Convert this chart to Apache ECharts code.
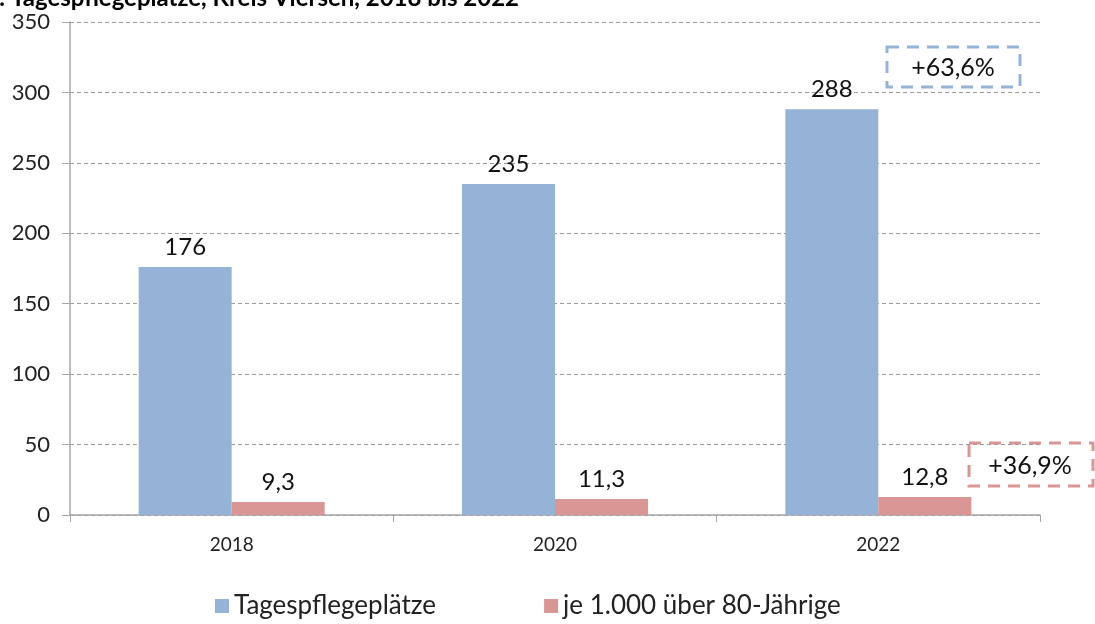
<!DOCTYPE html>
<html>
<head>
<meta charset="utf-8">
<script src="https://cdn.jsdelivr.net/npm/echarts@6/dist/echarts.min.js"></script>
<style>
  html, body { margin: 0; padding: 0; background: #fff; }
  #chart { width: 1095px; height: 624px; }
</style>
</head>
<body>
<div id="chart"></div>
<script>
// data
const years = ['2018', '2020', '2022'];
const places = [176, 235, 288];
const perThousand = [9.3, 11.3, 12.8];
const seriesNames = ['Tagespflegeplätze', 'je 1.000 über 80-Jährige'];
const changes = ['+63,6%', '+36,9%'];

const blue = '#95b3d7';
const red = '#d99694';
const font = 'Lato, "Noto Sans", sans-serif';

const fmt = v => String(v).replace('.', ',');

const chart = echarts.init(document.getElementById('chart'));

chart.setOption({
  animation: false,
  textStyle: { fontFamily: font },
  title: {
    text: ': Tagespflegeplätze, Kreis Viersen, 2018 bis 2022',
    left: -6,
    top: -19,
    textStyle: { fontSize: 24, fontWeight: 'bold', color: '#000', fontFamily: font }
  },
  grid: { left: 70, right: 55, top: 22, bottom: 109 },
  legend: {
    bottom: 0,
    left: 210,
    itemWidth: 14,
    itemHeight: 14,
    itemGap: 108,
    icon: 'rect',
    textStyle: { fontSize: 26, color: '#222', fontFamily: font },
    data: seriesNames
  },
  xAxis: {
    type: 'category',
    data: years,
    axisLine: { lineStyle: { color: '#a6a6a6', width: 1.5 } },
    axisTick: { show: true, length: 7, lineStyle: { color: '#a6a6a6' } },
    axisLabel: { fontSize: 19, color: '#222', margin: 20 }
  },
  yAxis: {
    type: 'value',
    min: 0,
    max: 350,
    interval: 50,
    axisLine: { show: true, lineStyle: { color: '#a6a6a6', width: 1.5 } },
    axisTick: { show: true, length: 8, lineStyle: { color: '#a6a6a6' } },
    axisLabel: { fontSize: 22, color: '#222', margin: 20 },
    splitLine: { lineStyle: { color: '#9a9a9a', type: [4, 3], width: 1 } }
  },
  series: [
    {
      name: seriesNames[0],
      type: 'bar',
      data: places,
      barWidth: 93,
      barGap: '0%',
      itemStyle: { color: blue },
      label: { show: true, position: 'top', distance: 8, fontSize: 24, color: '#111', formatter: p => fmt(p.value) }
    },
    {
      name: seriesNames[1],
      type: 'bar',
      data: perThousand,
      barWidth: 93,
      barGap: '0%',
      itemStyle: { color: red },
      label: { show: true, position: 'top', distance: 8, fontSize: 24, color: '#111', formatter: p => fmt(p.value) }
    }
  ],
  graphic: [
    {
      type: 'rect',
      shape: { x: 887, y: 47, width: 133, height: 40 },
      style: { fill: 'none', stroke: blue, lineWidth: 3, lineDash: [12, 8] }
    },
    {
      type: 'text',
      x: 953, y: 68,
      style: { text: changes[0], fontSize: 25, fill: '#111', align: 'center', verticalAlign: 'middle', fontFamily: font }
    },
    {
      type: 'rect',
      shape: { x: 969, y: 443, width: 124, height: 43 },
      style: { fill: 'none', stroke: red, lineWidth: 3, lineDash: [12, 8] }
    },
    {
      type: 'text',
      x: 1030, y: 466,
      style: { text: changes[1], fontSize: 25, fill: '#111', align: 'center', verticalAlign: 'middle', fontFamily: font }
    }
  ]
});
</script>
</body>
</html>
